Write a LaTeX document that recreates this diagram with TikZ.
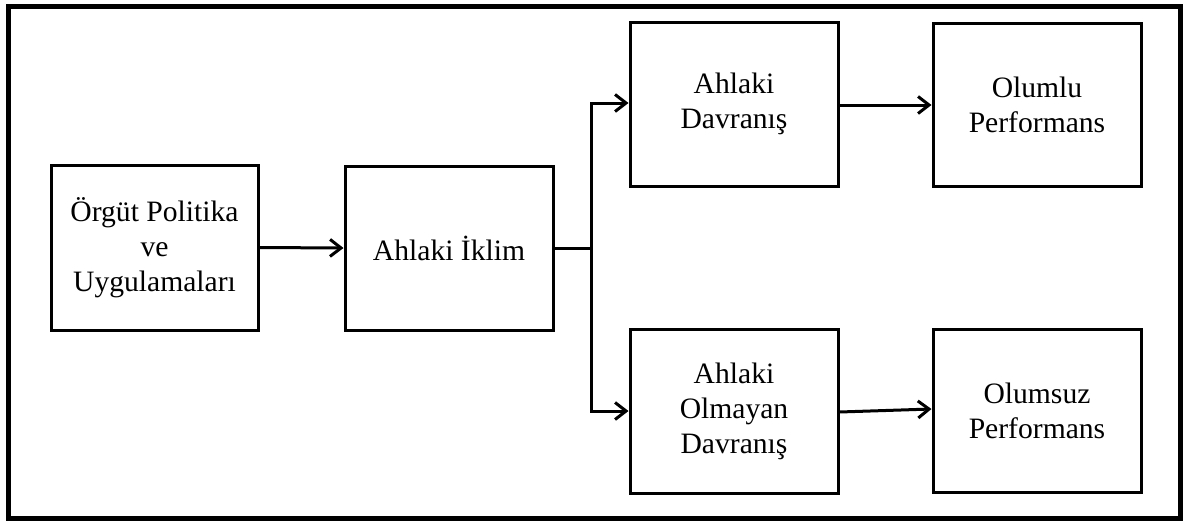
\documentclass[tikz,border=0pt]{standalone}
\usepackage{fontspec}
\setmainfont{Liberation Serif}
\usetikzlibrary{arrows.meta,calc}
\begin{document}
\begin{tikzpicture}[x=1pt,y=-1pt,
  box/.style={draw=black, line width=3pt, rectangle, align=center,
    minimum width=208pt, minimum height=164pt, inner sep=0pt,
    font=\fontsize{29.6}{35}\selectfont},
  link/.style={line width=3pt, draw=black},
  arr/.style={link, -{Straight Barb[length=11pt,width=17pt,line width=3pt]}}]
  % canvas and outer frame
  \useasboundingbox (0,0) rectangle (1184,520);
  \fill[white] (0,0) rectangle (1184,520);
  \draw[line width=5pt] (8.5,6.5) rectangle (1180.5,518.5);

  % boxes
  \node[box, minimum width=207pt, minimum height=165pt] (b1) at (154.5,247.5) {Örgüt Politika\\ve\\Uygulamaları};
  \node[box] (b2) at (449,248) {Ahlaki İklim};
  \node[box] (b3) at (734,104) {Ahlaki\\Davranış};
  \node[box, minimum height=163pt] (b4) at (1037,104.5) {Olumlu\\Performans};
  \node[box] (b5) at (734,411) {Ahlaki\\Olmayan\\Davranış};
  \node[box, minimum height=163pt] (b6) at (1037,410.5) {Olumsuz\\Performans};

  % connectors
  \coordinate (split) at (591,248);
  \draw[arr] (b1.east) -- (b2.west);
  \draw[link] (b2.east) -- (split);
  \draw[arr] (split) |- ($(b3.west)+(0,-1)$);
  \draw[arr] (split) |- (b5.west);
  \draw[arr] ($(b3.east)+(0,1)$) -- ($(b4.west)+(0,0.5)$);
  \draw[arr] ($(b5.east)+(0,1)$) -- ($(b6.west)+(0,-1.5)$);
\end{tikzpicture}
\end{document}
